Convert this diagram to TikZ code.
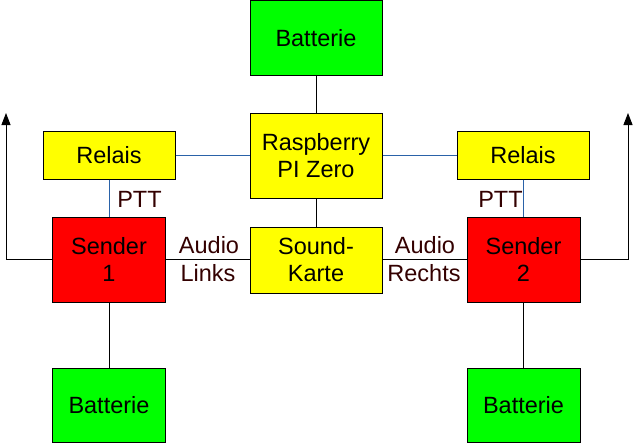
\documentclass[tikz,border=0pt]{standalone}
\usepackage{fontspec}
\setmainfont{Liberation Sans}
\usetikzlibrary{arrows.meta}
\definecolor{bgreen}{HTML}{00FF00}
\definecolor{byellow}{HTML}{FFFF00}
\definecolor{bred}{HTML}{FF0000}
\definecolor{lblue}{HTML}{2A62A8}
\definecolor{tbrown}{HTML}{330000}
\begin{document}
\begin{tikzpicture}[x=1pt,y=-1pt,
  box/.style={draw=black,line width=1pt,inner sep=0pt,align=center,
    font=\fontsize{23.5}{27}\selectfont},
  wire/.style={draw=black,line width=1pt},
  bwire/.style={draw=lblue,line width=1pt},
  lab/.style={text=tbrown,font=\fontsize{23.5}{27}\selectfont,inner sep=0pt}]
\useasboundingbox (0,0) rectangle (635,444);
\node[box,fill=bgreen,minimum width=132,minimum height=75] (battop) at (316,38) {Batterie};
\node[box,fill=byellow,minimum width=132,minimum height=85] (rpi) at (316,155.5) {Raspberry\\PI Zero};
\node[box,fill=byellow,minimum width=132,minimum height=66] (sound) at (316,260) {Sound-\\Karte};
\node[box,fill=byellow,minimum width=132,minimum height=48] (rel1) at (109,155) {Relais};
\node[box,fill=byellow,minimum width=132,minimum height=48] (rel2) at (523,155) {Relais};
\node[box,fill=bred,minimum width=113,minimum height=85] (s1) at (109,259.5) {Sender\\1};
\node[box,fill=bred,minimum width=113,minimum height=85] (s2) at (523.5,259.5) {Sender\\2};
\node[box,fill=bgreen,minimum width=113,minimum height=74] (bat1) at (109,405) {Batterie};
\node[box,fill=bgreen,minimum width=113,minimum height=74] (bat2) at (523.5,405) {Batterie};
\coordinate (a1) at (6,113);
\coordinate (a2) at (628,113);
\draw[wire] (battop.south) -- (rpi.north);
\draw[wire] (rpi.south) -- (sound.north);
\draw[bwire] (rel1.east) -- (rpi.west |- rel1.east);
\draw[bwire] (rel2.west) -- (rpi.east |- rel2.west);
\draw[bwire] (rel1.south) -- (rel1.south |- s1.north);
\draw[bwire] (rel2.south) -- (rel2.south |- s2.north);
\draw[wire] (s1.east) -- (sound.west |- s1.east);
\draw[wire] (s2.west) -- (sound.east |- s2.west);
\draw[wire] (s1.south) -- (bat1.north);
\draw[wire] (s2.south) -- (bat2.north);
\draw[wire,-{Triangle[length=12pt,width=9pt]}] (s1.west) -| (a1);
\draw[wire,-{Triangle[length=12pt,width=9pt]}] (s2.east) -| (a2);
\node[lab] (ptt1) at (139.5,199) {PTT};
\node[lab] (ptt2) at (500.5,199) {PTT};
\node[lab] (au1) at (209,245) {Audio};
\node[lab] (li1) at (208,273) {Links};
\node[lab] (au2) at (425,245) {Audio};
\node[lab] (re2) at (424,273) {Rechts};
\end{tikzpicture}
\end{document}
